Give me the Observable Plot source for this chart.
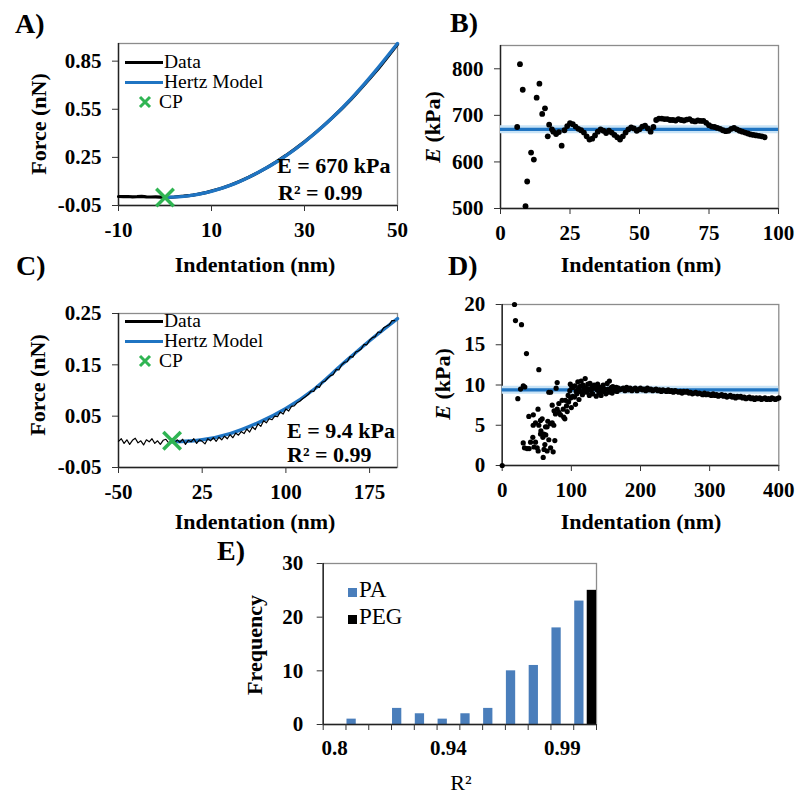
<!DOCTYPE html>
<html><head><meta charset="utf-8">
<script src="https://cdn.jsdelivr.net/npm/d3@7"></script>
<script src="https://cdn.jsdelivr.net/npm/@observablehq/plot@0.6"></script>
<style>
html,body{margin:0;padding:0;background:#fff;}
#fig{position:relative;width:797px;height:800px;overflow:hidden;background:#fff;font-family:"Liberation Serif","DejaVu Serif","Noto Serif","Times New Roman",Times,serif;color:#000;}
.t{position:absolute;white-space:nowrap;line-height:1;}
</style></head><body><div id="fig"></div>
<script>
// ---------- Panel A : force curve (stiff gel) ----------
const aXDomain = [-10, 50];
const aYDomain = [-0.05, 0.96];
const aXTicks = [-10, 10, 30, 50];
const aYTicks = [-0.05, 0.25, 0.55, 0.85];
const aData = [[-10,0.006],[-9,0.005],[-8,0.006],[-7,0.004],[-6,0.005],[-5,0.007],[-4,0.004],[-3,0.003],[-2,0.004],[-1,0.002],[0,0.000],[1,0.001],[2,0.003],[3,0.006],[4,0.008],[5,0.011],[6,0.015],[7,0.020],[8,0.026],[9,0.032],[10,0.040],[12,0.056],[14,0.076],[16,0.100],[18,0.126],[20,0.155],[22,0.188],[24,0.224],[26,0.262],[28,0.303],[30,0.348],[32,0.395],[34,0.445],[36,0.498],[38,0.553],[40,0.612],[42,0.675],[44,0.740],[46,0.808],[48,0.880],[50,0.955]];
const aHertz = [[0,0],[5,0.010],[10,0.038],[15,0.086],[20,0.155],[25,0.240],[30,0.346],[35,0.470],[40,0.615],[45,0.780],[50,0.960]];
const aCP = [[0,0]];
const aE = "E = 670 kPa", aR2 = "R² = 0.99";

// ---------- Panel B : E vs indentation (stiff gel) ----------
const bXDomain = [0, 100];
const bYDomain = [500, 850];
const bXTicks = [0, 25, 50, 75, 100];
const bYTicks = [500, 600, 700, 800];
const bModel = [670];
const bPoints = [[6,675],[7,810],[8,755],[9,505],[9.6,558],[11,620],[12,605],[13,738],[14,768],[15,703],[16,715],[17,655],[17.5,680],[18.5,670],[19,665],[20,660],[21,664],[22,635],
[23,668],[24,677],[25,683],[26,681],[27,676],[28,671],[29,668],[30,663],[31,655],[32,648],[33,650],[34,657],[35,665],[36,670],[37,667],[38,662],[39,667],[40,663],[41,658],[42,653],[43,648],[44,655],[45,663],[46,670],[47,674],[48,672],[49,667],[50,670],[51,676],[52,678],[53,672],[54,665],[55,675],[56,690],[57,693],[58,693],[59,692],[60,692],[61,690],[62,690],[63,689],[64,692],[65,690],[66,689],[67,691],[68,692],[69,688],[70,687],[71,689],[72,688],[73,688],[74,684],[75,679],[76,676],[77,675],[78,673],[79,671],[80,668],[81,666],[82,667],[83,671],[84,673],[85,670],[86,667],[87,665],[88,663],[89,661],[90,659],[91,658],[92,657],[93,656],[94,655],[95,653]];

// ---------- Panel C : force curve (soft gel) ----------
const cXDomain = [-50, 200];
const cYDomain = [-0.05, 0.25];
const cXTicks = [-50, 25, 100, 175];
const cYTicks = [-0.05, 0.05, 0.15, 0.25];
const cData = [[-50,0.001],[-47.5,0.006],[-45,-0.003],[-42.5,0.004],[-40,-0.005],[-37.5,0.003],[-35,0.007],[-32.5,-0.002],[-30,0.002],[-27.5,-0.006],[-25,0.004],[-22.5,0.000],[-20,0.006],[-17.5,-0.003],[-15,0.002],[-12.5,-0.005],[-10,0.003],[-7.5,0.005],[-5,-0.002],[-2.5,0.001],[0,-0.004],[2.5,0.004],[5,-0.001],[7.5,0.005],[10,-0.005],[12.5,0.003],[15,0.000],[17.5,0.006],[20,-0.003],[22.5,0.004],[25,0.001],[27.5,-0.004],[30,0.006],[32.5,0.002],[35,0.008],[37.5,0.001],[40,0.009],[42.5,0.004],[45,0.011],[47.5,0.006],[50,0.014],[52.5,0.008],[55,0.017],[57.5,0.013],[60,0.020],[62.5,0.016],[65,0.025],[67.5,0.019],[70,0.029],[72.5,0.024],[75,0.035],[77.5,0.030],[80,0.041],[82.5,0.037],[85,0.045],[87.5,0.043],[90,0.050],[92.5,0.049],[95,0.058],[97.5,0.054],[100,0.064],[102.5,0.060],[105,0.069],[107.5,0.070],[110,0.076],[112.5,0.079],[115,0.084],[117.5,0.088],[120,0.092],[122.5,0.099],[125,0.098],[127.5,0.108],[130,0.106],[132.5,0.116],[135,0.118],[137.5,0.124],[140,0.129],[142.5,0.131],[145,0.141],[147.5,0.140],[150,0.150],[152.5,0.155],[155,0.156],[157.5,0.166],[160,0.165],[162.5,0.175],[165,0.177],[167.5,0.181],[170,0.190],[172.5,0.189],[175,0.198],[177.5,0.203],[180,0.205],[182.5,0.214],[185,0.213],[187.5,0.222],[190,0.225],[192.5,0.228],[195,0.236],[197.5,0.236]];
const cHertz = [[-2,0],[25,0.004],[50,0.016],[75,0.037],[100,0.065],[125,0.102],[150,0.150],[175,0.197],[200,0.240]];
const cCP = [[-2,0.002]];
const cE = "E = 9.4 kPa", cR2 = "R² = 0.99";

// ---------- Panel D : E vs indentation (soft gel) ----------
const dXDomain = [0, 400];
const dYDomain = [0, 20];
const dXTicks = [0, 100, 200, 300, 400];
const dYTicks = [0, 5, 10, 15, 20];
const dModel = [9.4];
const dEarly = [[0,0],[17.8,20.0],[19.2,18.0],[27.9,17.5],[35.1,13.9],[53,11.9],[22.6,8.3],[26.5,9.5],[32.7,9.75],[30.5,9.9],
[38.5,6.1],[45,6.3],[48.2,5.3],[44.8,5.0],[51.8,7.0],[55.4,5.6],[57.8,5.8],[62.6,4.8],[65,4.8],[69.8,5.2],[72.3,5.3],[74.6,5.0],
[30.4,2.8],[32.2,2.2],[36,2.1],[39,2.1],[41,2.9],[44.3,3.5],[46,2.3],[48.2,2.9],[50.6,2.2],[52,1.8],[55.4,3.9],[56,4.3],[58.8,3.5],[59.3,1.0],[60.5,2.0],[61.7,2.6],[63,3.8],[65,1.8],[67.4,3.2],[70,2.2],[73.7,1.7],[76.1,3.1],[60.2,3.9],[53,5.0],[66,5.5],
[67.4,9.1],[70,9.1],[79.5,10.3],[78,9.6],
[72.3,7.5],[75,6.8],[77,6.4],[79.5,7.0],[81.9,7.7],[82,6.6],[84.3,6.3],[86.7,8.1],[88.2,7.0],[89,6.0],[90.6,5.8],[91.5,8.1],[93,7.4],[94,6.7],[95.4,8.7],[96,7.9],[97.8,9.3],[98.5,10.1],[99,8.4]];
const dBand = [[100,7.2],[100.5,9.8],[102,8.6],[102.6,9.7],[104.6,8.5],[105,9.9],[106,7.6],[107,9.2],[108,8.9],[109.4,10.4],[110,9.5],[111,8.2],[112,9.8],[113,9.2],[114.2,10.5],[115,9.9],[116,8.8],[117,10.0],[118,9.7],[119,9.3],[120,10.8],[121,9.6],[122,9.1],[123.8,10.1],[125,9.5],[126,8.7],[127,10.2],[128.7,9.3],[130,9.8],[131,8.9],[132,9.6],[133,10.0],[135,9.8],[136,8.6],[137,9.4],[138,10.1],[139.8,9.0],[141,9.7],[142,9.3],[143,8.7],[144.6,9.6],[146,10.0],[147,9.2],[148,9.5],[150,8.9],[151.8,10.2],[153,9.5],[154,9.1],[155,10.5],[156.6,9.4],[158,9.7],[159,9.0],[160,9.8],[162,9.4],[163.9,9.3],[165,9.7],[166,9.2],[168,9.6],[170,9.4],
[172.5,9.5],[175,9.6],[177.5,9.3],[180,9.7],[182.5,9.4],[185,9.6],[187.5,9.3],[190,9.5],[192.5,9.6],[195,9.3],[197.5,9.5],[200,9.6],[202.5,9.4],[205,9.5],[207.5,9.3],[210,9.6],[212.5,9.4],[215,9.5],[217.5,9.3],[220,9.4],[222.5,9.5],[225,9.3],[227.5,9.4],[230,9.2],[232.5,9.4],[235,9.3],[237.5,9.2],[240,9.4],[242.5,9.2],[245,9.3],[247.5,9.1],[250,9.3],[252.5,9.2],[255,9.1],[257.5,9.2],[260,9.0],[262.5,9.2],[265,9.1],[267.5,9.2],[270,9.0],[272.5,9.1],[275,8.9],[277.5,9.0],[280,9.1],[282.5,8.9],[285,9.0],[287.5,8.9],[290,8.8],[292.5,9.0],[295,8.8],[297.5,8.9],[300,8.8],[302.5,8.7],[305,8.9],[307.5,8.7],[310,8.8],[312.5,8.6],[315,8.7],[317.5,8.8],[320,8.6],[322.5,8.7],[325,8.5],[327.5,8.6],[330,8.7],[332.5,8.5],[335,8.6],[337.5,8.4],[340,8.6],[342.5,8.5],[345,8.6],[347.5,8.4],[350,8.5],[352.5,8.3],[355,8.4],[357.5,8.5],[360,8.3],[362.5,8.4],[365,8.2],[367.5,8.4],[370,8.3],[372.5,8.4],[375,8.2],[377.5,8.3],[380,8.4],[382.5,8.2],[385,8.3],[387.5,8.2],[390,8.4],[392.5,8.3],[395,8.2],[397.5,8.3],[400,8.4]];

// ---------- Panel E : R² histogram ----------
const eCats = ["0.8","0.9","0.91","0.92","0.93","0.94","0.95","0.96","0.97","0.98","0.99","1"];
const paCounts = [0,1,0,3,2,1,2,3,10,11,18,23];
const pegCounts = [0,0,0,0,0,0,0,0,0,0,0,25];
const eTickLabels = ["0.8","0.94","0.99"];
const eYDomain = [0, 30];
const eYTicks = [0, 10, 20, 30];

// ---------- styles ----------
const blue = "#1f74c2", halo = "#c8e3f6", green = "#2fb452", barBlue = "#4a7ebb", frameGray = "#8c8c8c";
const serif = '"Liberation Serif", "DejaVu Serif", "Noto Serif", "Times New Roman", Times, serif';
const baseStyle = {fontFamily: serif, fontSize: "21px", fontWeight: "bold", overflow: "visible", background: "transparent", color: "#000"};
const fig = document.getElementById("fig");

function place(svg, left, top) {
  svg.style.position = "absolute"; svg.style.left = left + "px"; svg.style.top = top + "px";
  svg.style.maxWidth = "none";
  svg.setAttribute("font-family", serif);
  fig.appendChild(svg);
}
function frameMarks(xd, yd) {
  return [
    Plot.frame({stroke: frameGray, strokeWidth: 1.3}),
    Plot.ruleX([xd[0]], {stroke: "#222", strokeWidth: 1.4}),
    Plot.ruleY([yd[0]], {stroke: "#222", strokeWidth: 1.4})
  ];
}
function axes(xt, yt, xf, yf, xPad = 11, yPad = 11) {
  return [
    Plot.axisX({ticks: xt, tickSize: 6, tickPadding: xPad, tickFormat: xf, label: null, stroke: "#333", fontFamily: serif}),
    Plot.axisY({ticks: yt, tickSize: 6, tickPadding: yPad, tickFormat: yf, label: null, stroke: "#333", fontFamily: serif})
  ];
}
const fx = d => d[0], fy = d => d[1];
const str = d => String(d), two = d => d.toFixed(2);

// Panel A
place(Plot.plot({
  width: 400, height: 250, marginLeft: 118, marginRight: 3, marginTop: 43, marginBottom: 45,
  x: {domain: aXDomain}, y: {domain: aYDomain}, style: baseStyle,
  marks: [
    ...frameMarks(aXDomain, aYDomain),
    ...axes(aXTicks, aYTicks, str, two),
    Plot.line(aData, {x: fx, y: fy, stroke: "#000", strokeWidth: 3.2}),
    Plot.line(aHertz, {x: fx, y: fy, stroke: blue, strokeWidth: 3.4, curve: "monotone-x"}),
    Plot.dot(aCP, {x: fx, y: fy, symbol: "times", r: 8, stroke: green, strokeWidth: 3.5})
  ]
}), 0, 0);

// Panel B
place(Plot.plot({
  width: 397, height: 250, marginLeft: 100, marginRight: 19, marginTop: 45, marginBottom: 42,
  x: {domain: bXDomain}, y: {domain: bYDomain}, style: baseStyle,
  marks: [
    ...frameMarks(bXDomain, bYDomain),
    ...axes(bXTicks, bYTicks, str, str),
    Plot.ruleY(bModel, {stroke: halo, strokeWidth: 8}),
    Plot.ruleY(bModel, {stroke: blue, strokeWidth: 3.4}),
    Plot.dot(bPoints, {x: fx, y: fy, r: 2.9, fill: "#000"})
  ]
}), 400, 0);

// Panel C
place(Plot.plot({
  width: 400, height: 220, marginLeft: 118, marginRight: 3, marginTop: 23, marginBottom: 43,
  x: {domain: cXDomain}, y: {domain: cYDomain}, style: baseStyle,
  marks: [
    ...frameMarks(cXDomain, cYDomain),
    ...axes(cXTicks, cYTicks, str, two),
    Plot.line(cHertz, {x: fx, y: fy, stroke: blue, strokeWidth: 3.4, curve: "monotone-x"}),
    Plot.line(cData, {x: fx, y: fy, stroke: "#000", strokeWidth: 1.2}),
    Plot.dot(cCP, {x: fx, y: fy, symbol: "times", r: 8, stroke: green, strokeWidth: 3.5})
  ]
}), 0, 290);

// Panel D
place(Plot.plot({
  width: 397, height: 220, marginLeft: 101.7, marginRight: 18.7, marginTop: 14, marginBottom: 45,
  x: {domain: dXDomain}, y: {domain: dYDomain}, style: baseStyle,
  marks: [
    ...frameMarks(dXDomain, dYDomain),
    ...axes(dXTicks, dYTicks, str, str),
    Plot.ruleY(dModel, {stroke: halo, strokeWidth: 8}),
    Plot.ruleY(dModel, {stroke: blue, strokeWidth: 3.4}),
    Plot.dot(dEarly, {x: fx, y: fy, r: 2.6, fill: "#000"}),
    Plot.dot(dBand, {x: fx, y: fy, r: 2.6, fill: "#000"})
  ]
}), 400, 290);

// Panel E
const eTable = eCats.map((c, i) => ({i, c, pa: paCounts[i], peg: pegCounts[i]}));
const eXDomain = [0, eCats.length];
place(Plot.plot({
  width: 420, height: 230, marginLeft: 122.7, marginRight: 24, marginTop: 13, marginBottom: 56,
  x: {domain: eXDomain}, y: {domain: eYDomain}, style: baseStyle,
  marks: [
    Plot.frame({stroke: frameGray, strokeWidth: 1.3}),
    Plot.rectY(eTable, {x1: "i", x2: d => d.i + 1, y: "pa", fill: barBlue, insetLeft: 1, insetRight: 12.5}),
    Plot.rectY(eTable.filter(d => d.peg > 0), {x1: "i", x2: d => d.i + 1, y: "peg", fill: "#000", insetLeft: 13.5, insetRight: 0}),
    Plot.ruleX([eXDomain[0]], {stroke: "#222", strokeWidth: 1.4}),
    Plot.ruleY([eYDomain[0]], {stroke: "#222", strokeWidth: 1.4}),
    Plot.axisX({ticks: d3.range(eCats.length + 1), tickSize: 6, tickFormat: () => "", label: null, stroke: "#333"}),
    Plot.axisX({ticks: eTickLabels.map(l => eCats.indexOf(l) + 0.5), tickSize: 0, tickPadding: 16, tickFormat: d => eCats[Math.floor(d)], label: null, fontFamily: serif}),
    Plot.axisY({ticks: eYTicks, tickSize: 6, tickPadding: 14, tickFormat: str, label: null, stroke: "#333", fontFamily: serif})
  ]
}), 200, 550);

// ---------- text overlays ----------
function txt(s, x, base, o = {}) {
  const size = o.size ?? 22;
  const el = document.createElement("div");
  el.className = "t";
  el.style.fontSize = size + "px";
  el.style.fontWeight = o.weight ?? "bold";
  el.innerHTML = s;
  el.style.left = x + "px";
  el.style.top = (base - 0.8375 * size) + "px";
  if (o.anchor === "middle") el.style.transform = "translateX(-50%)";
  fig.appendChild(el);
}
function vtxt(s, cx, cy, size = 22) {
  const el = document.createElement("div");
  el.className = "t";
  el.style.fontSize = size + "px"; el.style.fontWeight = "bold";
  el.innerHTML = s; el.style.left = cx + "px"; el.style.top = cy + "px";
  el.style.transform = "translate(-50%,-50%) rotate(-90deg)";
  fig.appendChild(el);
}
function lineSwatch(x1, x2, y, color, w) {
  const el = document.createElement("div");
  Object.assign(el.style, {position: "absolute", left: x1 + "px", top: (y - w / 2) + "px", width: (x2 - x1) + "px", height: w + "px", background: color});
  fig.appendChild(el);
}
function crossSwatch(cx, cy, s, color, w) {
  const ns = "http://www.w3.org/2000/svg";
  const svg = document.createElementNS(ns, "svg");
  svg.setAttribute("width", s + 4); svg.setAttribute("height", s + 4);
  Object.assign(svg.style, {position: "absolute", left: (cx - s / 2 - 2) + "px", top: (cy - s / 2 - 2) + "px"});
  const p = document.createElementNS(ns, "path");
  p.setAttribute("d", `M2,2L${s + 2},${s + 2}M${s + 2},2L2,${s + 2}`);
  p.setAttribute("stroke", color); p.setAttribute("stroke-width", w); p.setAttribute("fill", "none");
  svg.appendChild(p); fig.appendChild(svg);
}
function squareSwatch(x, y, s, color) {
  const el = document.createElement("div");
  Object.assign(el.style, {position: "absolute", left: x + "px", top: y + "px", width: s + "px", height: s + "px", background: color});
  fig.appendChild(el);
}

// panel letters
txt("A)", 15, 33, {size: 28});
txt("B)", 450, 32, {size: 28});
txt("C)", 16, 275, {size: 28});
txt("D)", 448, 275, {size: 28});
txt("E)", 217, 560, {size: 28});

// axis titles
vtxt("Force (nN)", 39, 124);
vtxt("Force (nN)", 38, 385);
vtxt("<i>E</i> (kPa)", 433, 127);
vtxt("<i>E</i> (kPa)", 443, 384);
vtxt("Frequency", 255, 645);
txt("Indentation (nm)", 255, 272, {anchor: "middle"});
txt("Indentation (nm)", 641, 272, {anchor: "middle"});
txt("Indentation (nm)", 255, 529, {anchor: "middle"});
txt("Indentation (nm)", 641, 529, {anchor: "middle"});
txt("R²", 461, 790, {anchor: "middle", weight: "normal"});

// legends A and C
const legNames = ["Data", "Hertz Model", "CP"];
function legend(y0, y1, y2) {
  lineSwatch(125, 163, y0, "#000", 3);
  lineSwatch(125, 163, y1, blue, 3);
  crossSwatch(145, y2, 10, green, 3);
  txt(legNames[0], 164, y0 + 6.5, {weight: "normal", size: 19.5});
  txt(legNames[1], 164, y1 + 6.5, {weight: "normal", size: 19.5});
  txt(legNames[2], 159, y2 + 6.5, {weight: "normal", size: 19.5});
}
legend(62, 82, 102);
legend(321, 341, 361);

// annotations
txt(aE, 277, 173);
txt(aR2, 278, 200);
txt(cE, 287, 438);
txt(cR2, 287, 462);

// legend E
squareSwatch(348, 588, 9, barBlue);
squareSwatch(348, 615, 9, "#000");
txt("PA", 359, 597, {weight: "normal", size: 23});
txt("PEG", 359, 624, {weight: "normal", size: 23});
</script></body></html>
